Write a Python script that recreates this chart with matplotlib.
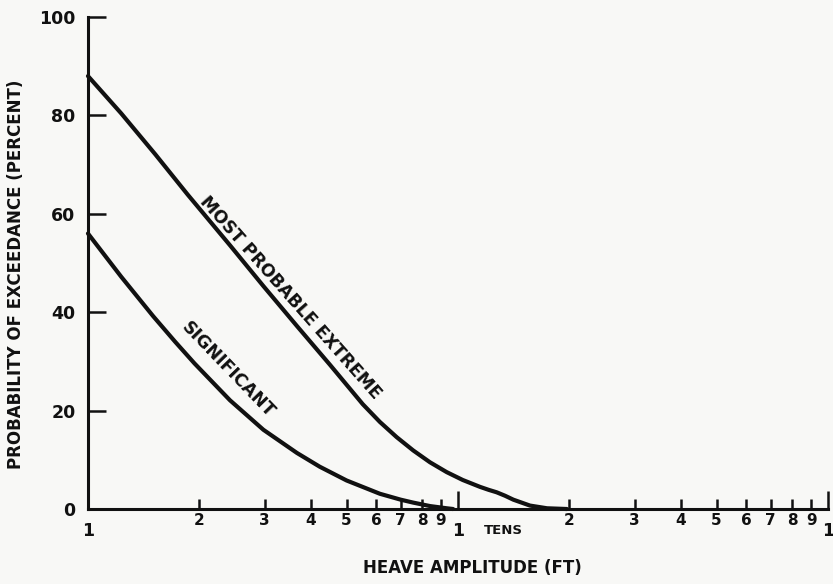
import matplotlib
matplotlib.use("Agg")
import matplotlib.pyplot as plt

# Heave amplitude (ft) vs probability of exceedance (%)
extreme_x = [1.0, 1.23, 1.52, 1.86, 2.42, 2.98, 3.67, 4.51, 5.53, 6.15, 6.83, 7.57,
             8.4, 9.32, 10.3, 11.47, 12.1, 12.72, 13.4, 14.11, 15.65, 17.4, 19.7]
extreme_y = [88.0, 80.4, 72.1, 63.9, 53.6, 45.3, 37.2, 29.3, 21.3, 17.7, 14.6, 11.9,
             9.5, 7.5, 5.9, 4.5, 3.9, 3.4, 2.7, 1.9, 0.7, 0.15, 0.0]

significant_x = [1.0, 1.23, 1.5, 1.72, 1.94, 2.42, 2.98, 3.67, 4.23, 5.0, 6.15, 7.0,
                 7.57, 8.4, 9.32, 9.7]
significant_y = [56.0, 47.2, 39.2, 34.0, 29.6, 22.1, 16.1, 11.4, 8.6, 5.8, 3.1, 1.9,
                 1.3, 0.6, 0.15, 0.0]

minor_ticks = [2, 3, 4, 5, 6, 7, 8, 9, 20, 30, 40, 50, 60, 70, 80, 90]
minor_labels = ["2", "3", "4", "5", "6", "7", "8", "9"] * 2
major_ticks = [1, 10, 100]
major_labels = ["1", "1", "1"]
y_ticks = [0, 20, 40, 60, 80, 100]

ink = "#111111"
bg = "#f8f8f6"
font = "DejaVu Sans"

fig = plt.figure(figsize=(8.33, 5.84), dpi=100, facecolor=bg)
ax = fig.add_axes([0.1056, 0.1284, 0.8884, 0.8425], facecolor=bg)

ax.set_xscale("log")
ax.set_xlim(1, 100)
ax.set_ylim(0, 100)

for xs, ys in ((extreme_x, extreme_y), (significant_x, significant_y)):
    ax.plot(xs, ys, color=ink, lw=3.0, solid_capstyle="round",
            solid_joinstyle="round", clip_on=False)

for side in ("top", "right"):
    ax.spines[side].set_visible(False)
for side in ("left", "bottom"):
    ax.spines[side].set_linewidth(2.2)
    ax.spines[side].set_color(ink)

ax.set_xticks(major_ticks)
ax.set_xticklabels(major_labels)
ax.set_xticks(minor_ticks, minor=True)
ax.set_xticklabels(minor_labels, minor=True)
ax.tick_params(axis="x", which="major", direction="in", length=13, width=1.8,
               color=ink, pad=9, labelsize=12.5, labelcolor=ink)
ax.tick_params(axis="x", which="minor", direction="in", length=7, width=1.8,
               color=ink, pad=3, labelsize=11, labelcolor=ink)
for lbl in ax.get_xticklabels() + ax.get_xticklabels(minor=True):
    lbl.set_fontweight("bold")
    lbl.set_family(font)

ax.set_yticks(y_ticks)
ax.set_yticklabels([str(v) for v in y_ticks])
ax.tick_params(axis="y", which="major", direction="in", length=13, width=1.8,
               color=ink, pad=9, labelsize=12.5, labelcolor=ink)
for lbl in ax.get_yticklabels():
    lbl.set_fontweight("bold")
    lbl.set_family(font)

ax.set_xlabel("HEAVE AMPLITUDE (FT)", fontsize=12, fontweight="bold",
              family=font, color=ink)
ax.xaxis.set_label_coords(0.52, -0.102)
ax.set_ylabel("PROBABILITY OF EXCEEDANCE (PERCENT)", fontsize=12,
              fontweight="bold", family=font, color=ink)
ax.yaxis.set_label_coords(-0.085, 0.477)

ax.text(13.3, -4.3, "TENS", fontsize=9.5, fontweight="bold", family=font,
        color=ink, ha="center", va="center", clip_on=False)

ax.text(3.52, 43.0, "MOST PROBABLE EXTREME", fontsize=12.5, fontweight="bold",
        family=font, color=ink, rotation=-48.5, rotation_mode="anchor",
        ha="center", va="center")
ax.text(2.39, 28.3, "SIGNIFICANT", fontsize=12.5, fontweight="bold",
        family=font, color=ink, rotation=-46, rotation_mode="anchor",
        ha="center", va="center")

fig.savefig("out.png", dpi=100, facecolor=bg)
